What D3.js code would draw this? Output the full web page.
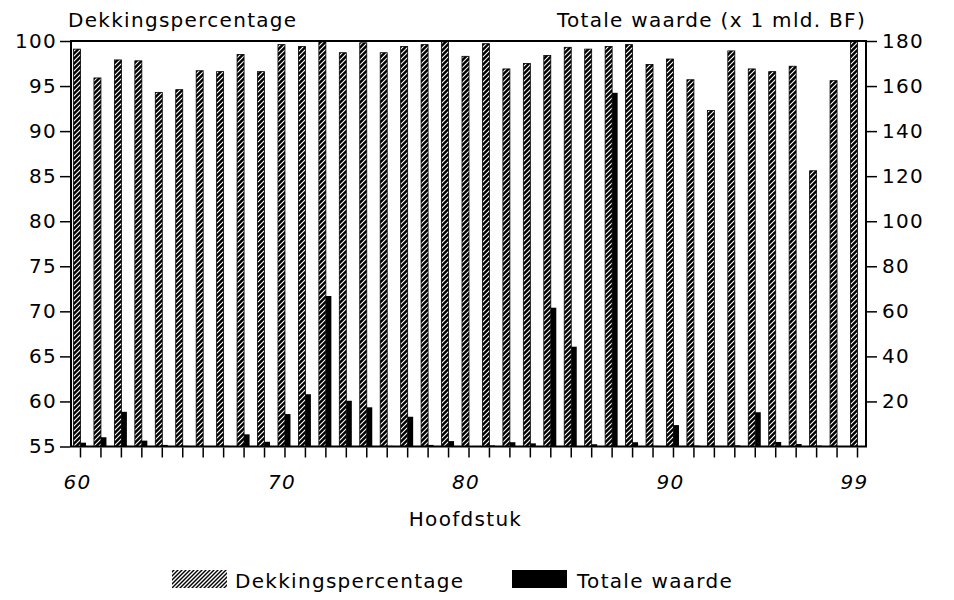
<!DOCTYPE html>
<html><head><meta charset="utf-8">
<script src="https://cdn.jsdelivr.net/npm/d3@7"></script>
<style>
body{margin:0;background:#fff}
text{font-family:"DejaVu Sans",sans-serif;fill:#000}
</style>
</head><body>
<svg id="c" width="954" height="600"></svg>
<script>
// ---- data ----
const chapters = ["60","61","62","63","64","65","66","67","68","69",
                  "70","71","72","73","74","75","76","78","79",
                  "80","81","82","83","84","85","86","87","88","89",
                  "90","91","92","93","94","95","96","97","98","99"];
const dekking = [99.1,95.9,97.9,97.8,94.3,94.6,96.7,96.6,98.5,96.6,
                 99.6,99.4,99.9,98.7,99.8,98.7,99.4,99.6,99.9,
                 98.3,99.7,96.9,97.5,98.4,99.3,99.1,99.4,99.6,97.4,
                 98.0,95.7,92.3,98.9,96.9,96.6,97.2,85.6,95.6,100.0];
const waarde = [1.7,4.1,15.4,2.6,0.7,0.3,0.2,0.3,5.4,2.1,
                14.4,23.2,66.8,20.3,17.4,0.3,13.2,0.7,2.4,
                0.2,0.5,1.9,1.4,61.6,44.3,1.0,157,1.9,0.3,
                9.5,0.4,0.2,0.5,15.2,2.0,1.1,0.4,0.1,0.1];
const leftTicks = [55,60,65,70,75,80,85,90,95,100];
const rightTicks = [20,40,60,80,100,120,140,160,180];
const xLabels = ["60","70","80","90","99"];
const seriesNames = ["Dekkingspercentage","Totale waarde"];
const leftTitle = "Dekkingspercentage";
const rightTitle = "Totale waarde (x 1 mld. BF)";
const xTitle = "Hoofdstuk";

// ---- layout ----
const L = 71, R = 866, T = 41, B = 446.5;
const svg = d3.select("#c");
const defs = svg.append("defs");
const p1 = defs.append("pattern").attr("id","hb").attr("patternUnits","userSpaceOnUse")
  .attr("width",5).attr("height",5);
p1.append("rect").attr("width",5).attr("height",5).attr("fill","#000");
p1.append("path").attr("d","M0,5 L5,0 M-1,1 L1,-1 M4,6 L6,4").attr("stroke","#fff").attr("stroke-width",1.1);
const p2 = defs.append("pattern").attr("id","hl").attr("patternUnits","userSpaceOnUse")
  .attr("width",4).attr("height",4);
p2.append("rect").attr("width",4).attr("height",4).attr("fill","#fff");
p2.append("path").attr("d","M0,4 L4,0 M-1,1 L1,-1 M3,5 L5,3").attr("stroke","#000").attr("stroke-width",1.4);

const x = d3.scalePoint().domain(chapters).range([L,R]).padding(0.44);
const yL = d3.scaleLinear().domain([55,100]).range([B,T]);
const yR = d3.scaleLinear().domain([0,180]).range([B,T]);

const fs = 20, ls = 1.3;

// bars
svg.append("g").selectAll("rect").data(chapters).join("rect")
  .attr("x",(c)=>x(c)-6.5).attr("width",7)
  .attr("y",(c,i)=>yL(dekking[i])).attr("height",(c,i)=>B-yL(dekking[i]))
  .attr("fill","url(#hb)").attr("stroke","#000").attr("stroke-width",0.8);
svg.append("g").selectAll("rect").data(chapters).join("rect")
  .attr("x",(c)=>x(c)+0.5).attr("width",5.5)
  .attr("y",(c,i)=>yR(waarde[i])).attr("height",(c,i)=>B-yR(waarde[i]))
  .attr("fill","#000");

// frame
svg.append("rect").attr("x",L).attr("y",T).attr("width",R-L).attr("height",B-T)
  .attr("fill","none").attr("stroke","#000").attr("stroke-width",2);

// axes
function styleAxis(g){
  g.select(".domain").remove();
  g.selectAll(".tick line").attr("stroke","#000").attr("stroke-width",1.5);
  g.selectAll("text").attr("font-size",fs).attr("letter-spacing",ls).attr("fill","#000")
   .attr("font-family","DejaVu Sans");
}
svg.append("g").attr("transform",`translate(${L-1},0)`)
  .call(d3.axisLeft(yL).tickValues(leftTicks).tickSize(10).tickPadding(3).tickFormat(d3.format("d")))
  .call(styleAxis);
svg.append("g").attr("transform",`translate(${R+1},0)`)
  .call(d3.axisRight(yR).tickValues(rightTicks).tickSize(10).tickPadding(5).tickFormat(d3.format("d")))
  .call(styleAxis);
const xa = svg.append("g").attr("transform",`translate(0,${B+1})`)
  .call(d3.axisBottom(x).tickSize(10).tickPadding(17).tickFormat(d=>xLabels.includes(d)?d:""))
  .call(styleAxis);
xa.selectAll("text").attr("font-style","italic").attr("dx",-3);

// titles
svg.append("text").attr("x",68).attr("y",27).attr("font-size",fs).attr("letter-spacing",ls).text(leftTitle);
svg.append("text").attr("x",866).attr("y",27).attr("text-anchor","end").attr("font-size",fs).attr("letter-spacing",ls).text(rightTitle);
svg.append("text").attr("x",(L+R)/2-3).attr("y",526).attr("text-anchor","middle").attr("font-size",fs).attr("letter-spacing",ls).text(xTitle);

// legend
const leg = svg.append("g");
leg.append("rect").attr("x",172).attr("y",570).attr("width",55).attr("height",18).attr("fill","url(#hl)");
leg.append("text").attr("x",235).attr("y",588).attr("font-size",fs).attr("letter-spacing",ls).text(seriesNames[0]);
leg.append("rect").attr("x",512).attr("y",570).attr("width",55).attr("height",18).attr("fill","#000");
leg.append("text").attr("x",577).attr("y",588).attr("font-size",fs).attr("letter-spacing",ls).text(seriesNames[1]);
</script>
</body></html>
